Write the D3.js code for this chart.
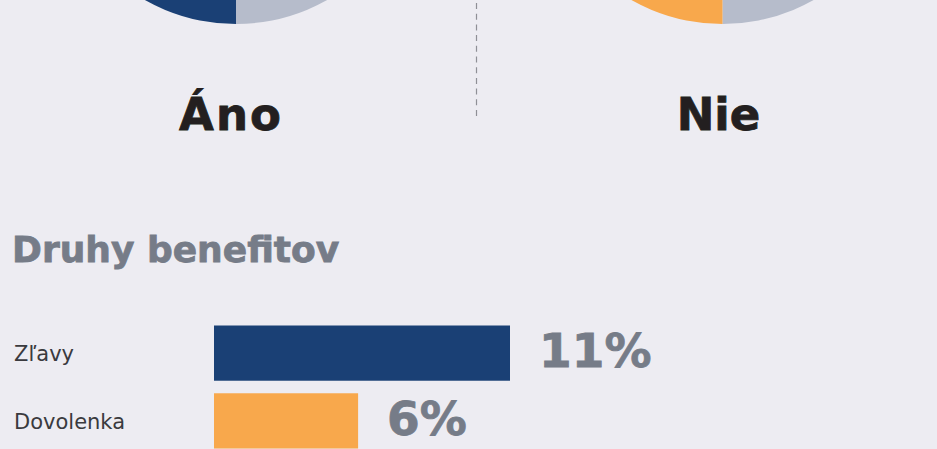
<!DOCTYPE html>
<html>
<head>
<meta charset="utf-8">
<script src="https://cdn.jsdelivr.net/npm/d3@7"></script>
<style>
  html, body { margin: 0; padding: 0; background: #edecf2; }
  svg { display: block; }
</style>
</head>
<body>
<svg id="chart" width="937" height="449"></svg>
<script>
// ---- data ----
const pieGroups = ["Áno", "Nie"];
const pieAno = [50, 50];          // [other, benefit] – only bottom half visible
const pieNie = [50, 50];
const benefitCategories = ["Zľavy", "Dovolenka"];
const benefitValues = [11.4, 5.55];
const benefitLabels = ["11%", "6%"];
const sectionTitle = "Druhy benefitov";

// ---- styles ----
const BG = "#edecf2";
const BLUE = "#1a4075";
const ORANGE = "#f8a84c";
const LIGHT = "#b6bccb";
const GRAY_TEXT = "#767c88";

const svg = d3.select("#chart");
svg.append("rect").attr("width", 937).attr("height", 449).attr("fill", BG);

// ---- pies ----
const pieX = d3.scalePoint().domain(pieGroups).range([236, 722.5]);
const pie = d3.pie().sort(null).startAngle(0).endAngle(2 * Math.PI);
const arc = d3.arc().innerRadius(0).outerRadius(185);
const pieData = [
  { name: "Áno", values: pieAno, colors: [LIGHT, BLUE] },
  { name: "Nie", values: pieNie, colors: [LIGHT, ORANGE] }
];
pieData.forEach(p => {
  const g = svg.append("g").attr("transform", `translate(${pieX(p.name)},-161)`);
  g.selectAll("path").data(pie(p.values)).join("path")
    .attr("d", arc)
    .attr("fill", (d, i) => p.colors[i]);
});

// group labels
svg.selectAll("text.grp").data(pieGroups).join("text")
  .attr("class", "grp")
  .attr("x", d => pieX(d) - (d === "Áno" ? 5 : 4))
  .attr("y", 130)
  .attr("text-anchor", "middle")
  .attr("font-family", "DejaVu Sans, sans-serif")
  .attr("font-weight", "bold")
  .attr("font-size", 45)
  .attr("letter-spacing", d => d === "Áno" ? 2 : 0)
  .attr("fill", "#231f20")
  .attr("stroke", "#231f20")
  .attr("stroke-width", 0.8)
  .text(d => d);

// dashed divider
svg.append("line")
  .attr("x1", 476.5).attr("x2", 476.5)
  .attr("y1", 3).attr("y2", 116)
  .attr("stroke", "#8f8f96")
  .attr("stroke-width", 1.2)
  .attr("stroke-dasharray", "6,4.7");

// ---- section title ----
svg.append("text")
  .attr("x", 12).attr("y", 262)
  .attr("font-family", "DejaVu Sans, sans-serif")
  .attr("font-weight", "bold")
  .attr("font-size", 36)
  .attr("fill", GRAY_TEXT)
  .attr("stroke", GRAY_TEXT)
  .attr("stroke-width", 0.8)
  .text(sectionTitle);

// ---- bars ----
const x = d3.scaleLinear().domain([0, 11.4]).range([214, 510]);
const y = d3.scaleBand().domain(benefitCategories).range([325.5, 448.5]).paddingInner(0.185).paddingOuter(0);
const barColors = [BLUE, ORANGE];

svg.selectAll("rect.bar").data(benefitValues).join("rect")
  .attr("class", "bar")
  .attr("x", x(0))
  .attr("y", (d, i) => y(benefitCategories[i]))
  .attr("width", d => x(d) - x(0))
  .attr("height", y.bandwidth())
  .attr("fill", (d, i) => barColors[i]);

svg.selectAll("text.cat").data(benefitCategories).join("text")
  .attr("class", "cat")
  .attr("x", 14)
  .attr("y", d => y(d) + y.bandwidth() / 2 + 8)
  .attr("font-family", "DejaVu Sans, sans-serif")
  .attr("font-size", 21)
  .attr("fill", "#3a3a3e")
  .text(d => d);

svg.selectAll("text.val").data(benefitValues).join("text")
  .attr("class", "val")
  .attr("x", d => x(d) + 29)
  .attr("y", (d, i) => y(benefitCategories[i]) + y.bandwidth() / 2 + 14)
  .attr("font-family", "DejaVu Sans, sans-serif")
  .attr("font-weight", "bold")
  .attr("font-size", 47)
  .attr("fill", GRAY_TEXT)
  .attr("stroke", GRAY_TEXT)
  .attr("stroke-width", 0.8)
  .text((d, i) => benefitLabels[i]);
</script>
</body>
</html>
